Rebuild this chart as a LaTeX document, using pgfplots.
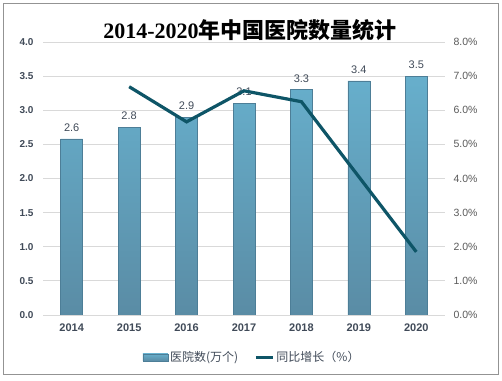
\documentclass[border=0pt]{standalone}
\usepackage{fontspec}
\setmainfont{Liberation Sans}
\newfontfamily\cjk{Noto Sans CJK SC}
\newfontfamily\serifnum{Liberation Serif}
\usepackage{pgfplots}
\pgfplotsset{compat=1.18}
\definecolor{barT}{HTML}{67AFCC}
\definecolor{barB}{HTML}{5A8CA5}
\definecolor{barD}{HTML}{4D7E97}
\definecolor{lineC}{HTML}{0E5567}
\definecolor{tickL}{HTML}{404A58}
\definecolor{tickR}{HTML}{595959}
\definecolor{gridC}{HTML}{D9D9D9}
\begin{document}
\begin{tikzpicture}
\useasboundingbox (0,0) rectangle (502bp,381bp);
\draw[color=gray!85, line width=1bp] (3bp,6bp) rectangle (498bp,377bp);
\node at (250bp,351bp) {\fontsize{22bp}{25bp}\selectfont\bfseries\serifnum 2014-2020\cjk 年中国医院数量统计};
\begin{axis}[
  at={(43bp,66bp)}, anchor=south west,
  scale only axis, width=402bp, height=273bp,
  xmin=-0.5, xmax=6.5, ymin=0, ymax=4,
  ytick={0,0.5,1,1.5,2,2.5,3,3.5,4},
  xtick={0,1,2,3,4,5,6},
  xticklabels={2014,2015,2016,2017,2018,2019,2020},
  axis line style={draw=none},
  major tick style={draw=none},
  ymajorgrids, grid style={gridC, line width=0.8bp},
  yticklabel style={font=\fontsize{10bp}{12bp}\selectfont\bfseries, text=tickL, xshift=-6bp},
  xticklabel style={font=\fontsize{11bp}{13bp}\selectfont\bfseries, text=tickL, yshift=-5bp},
  /pgf/number format/assume math mode=true,
  yticklabel={\pgfmathprintnumber[fixed,fixed zerofill,precision=1]{\tick}},
  nodes near coords,
  point meta=explicit symbolic,
  every node near coord/.append style={font=\fontsize{11bp}{13bp}\selectfont, text=tickL, yshift=4bp},
]
\addplot[ybar, bar width=22bp, draw=barD, line width=0.6bp, top color=barT, bottom color=barB]
 coordinates {(0,2.58)[2.6] (1,2.75)[2.8] (2,2.90)[2.9] (3,3.10)[3.1] (4,3.30)[3.3] (5,3.43)[3.4] (6,3.50)[3.5]};
\end{axis}
\begin{axis}[
  at={(43bp,66bp)}, anchor=south west,
  scale only axis, width=402bp, height=273bp,
  xmin=-0.5, xmax=6.5, ymin=0, ymax=8,
  ytick={0,1,2,3,4,5,6,7,8},
  axis x line=none,
  axis y line*=right,
  axis line style={draw=none},
  major tick style={draw=none},
  yticklabel style={font=\fontsize{10.5bp}{12bp}\selectfont, text=tickR, xshift=5bp},
  /pgf/number format/assume math mode=true,
  yticklabel={\pgfmathprintnumber[fixed,fixed zerofill,precision=1]{\tick}\%},
  legend columns=2,
  legend style={draw=none, fill=none, at={(0.52,-0.155)}, anchor=center,
    font=\fontsize{12bp}{14bp}\selectfont\cjk, text=tickL,
    /tikz/every even column/.append style={column sep=14bp}},
]
\addlegendimage{legend image code/.code={\draw[draw=barD, line width=0.6bp, top color=barT, bottom color=barB] (0bp,-3.5bp) rectangle (25bp,3.5bp);}}
\addlegendentry{医院数(万个)}
\addplot[lineC, line width=3.2bp, line join=miter]
 coordinates {(1,6.69) (2,5.66) (3,6.57) (4,6.25) (5,4.05) (6,1.85)};
\addlegendentry{同比增长（\%）}
\end{axis}
\end{tikzpicture}
\end{document}
